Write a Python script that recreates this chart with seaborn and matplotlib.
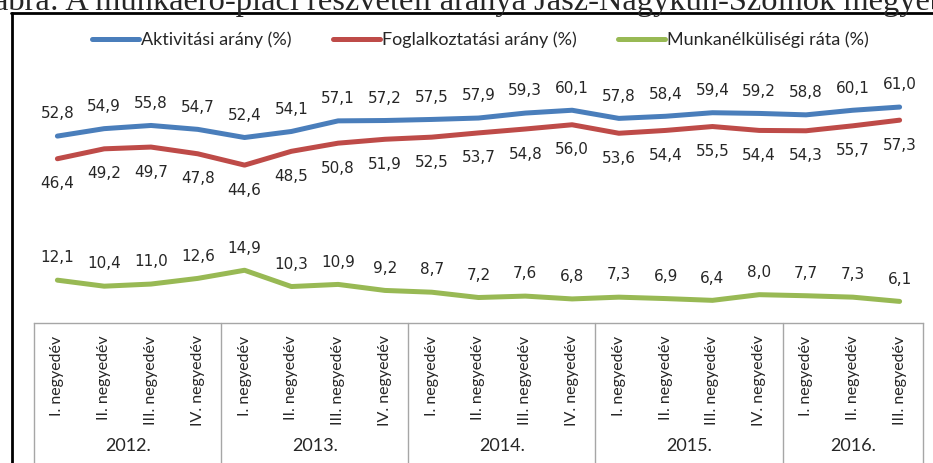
import numpy as np
import pandas as pd
import seaborn as sns
import matplotlib.pyplot as plt
from matplotlib.lines import Line2D

# Quarterly labour market rates, Jász-Nagykun-Szolnok county
years = ['2012.', '2013.', '2014.', '2015.', '2016.']
quarters_per_year = [4, 4, 4, 4, 3]
quarter_names = ['I. negyedév', 'II. negyedév', 'III. negyedév', 'IV. negyedév']

aktivitasi = [52.8, 54.9, 55.8, 54.7, 52.4, 54.1, 57.1, 57.2, 57.5, 57.9,
              59.3, 60.1, 57.8, 58.4, 59.4, 59.2, 58.8, 60.1, 61.0]
foglalkoztatasi = [46.4, 49.2, 49.7, 47.8, 44.6, 48.5, 50.8, 51.9, 52.5, 53.7,
                   54.8, 56.0, 53.6, 54.4, 55.5, 54.4, 54.3, 55.7, 57.3]
munkanelkuli = [12.1, 10.4, 11.0, 12.6, 14.9, 10.3, 10.9, 9.2, 8.7, 7.2,
                7.6, 6.8, 7.3, 6.9, 6.4, 8.0, 7.7, 7.3, 6.1]

series_names = ['Aktivitási arány (%)', 'Foglalkoztatási arány (%)', 'Munkanélküliségi ráta (%)']
colors = ['#4A7EBB', '#BE4B48', '#98B954']
label_offsets = [16, -18, 16]  # points above (+) / below (-) the line

tick_labels = [q for n in quarters_per_year for q in quarter_names[:n]]
x = np.arange(len(tick_labels))

sns.set_theme(style='white')
plt.rcParams['font.family'] = ['Lato', 'DejaVu Sans']

fig = plt.figure(figsize=(9.33, 4.63), dpi=100)
ax = fig.add_axes([34 / 933, 1 - 323 / 463, 889 / 933, 265.5 / 463])

for name, vals, col, off in zip(series_names, [aktivitasi, foglalkoztatasi, munkanelkuli],
                                colors, label_offsets):
    df = pd.DataFrame({'x': x, 'y': vals})
    sns.lineplot(data=df, x='x', y='y', color=col, linewidth=3.6, label=name,
                 ax=ax, solid_capstyle='round')
    for xi, v in zip(x, vals):
        ax.annotate(f'{v:.1f}'.replace('.', ','), (xi, v), xytext=(0, off),
                    textcoords='offset points', ha='center', va='center',
                    fontsize=11, family='DejaVu Sans', color='#262626')

ax.set_xlim(-0.5, len(x) - 0.5)
ax.set_ylim(0, 75)
ax.set_xlabel('')
ax.set_ylabel('')
ax.set_yticks([])
ax.set_xticks(x)
ax.set_xticklabels(tick_labels, rotation=90, ha='center', va='top', fontsize=11.5)
ax.tick_params(axis='x', length=0, pad=9)
for s in ['top', 'right', 'left']:
    ax.spines[s].set_visible(False)
ax.spines['bottom'].set_color('#A6A6A6')
ax.spines['bottom'].set_linewidth(1)

# year group separators and labels
trans = ax.get_xaxis_transform()
edges = np.concatenate([[0], np.cumsum(quarters_per_year)]) - 0.5
for e in edges:
    ax.plot([e, e], [0, -0.7], transform=trans, color='#A6A6A6', lw=1, clip_on=False)
for yr, a, b in zip(years, edges[:-1], edges[1:]):
    ax.text((a + b) / 2, -0.463, yr, transform=trans, ha='center', va='center',
            fontsize=13, color='#262626')

ax.legend(loc='center', bbox_to_anchor=(0.515, 1 - 40 / 463), bbox_transform=fig.transFigure,
          ncol=3, frameon=False, fontsize=13, handlelength=2.6, handletextpad=0.1,
          columnspacing=2.3)

# frame and cut-off caption above the chart
fig.add_artist(Line2D([11 / 933, 1.0], [1 - 13 / 463, 1 - 13 / 463], color='black', lw=2))
fig.add_artist(Line2D([12 / 933, 12 / 933], [1 - 13 / 463, 0], color='black', lw=2))
fig.text(-0.006, 1 - 10 / 463, 'ábra: A munkaerő-piaci részvételi aránya Jász-Nagykun-Szolnok megyében',
         family='Liberation Serif', fontsize=23.4, va='baseline', ha='left')

fig.savefig('out.png', dpi=100)
